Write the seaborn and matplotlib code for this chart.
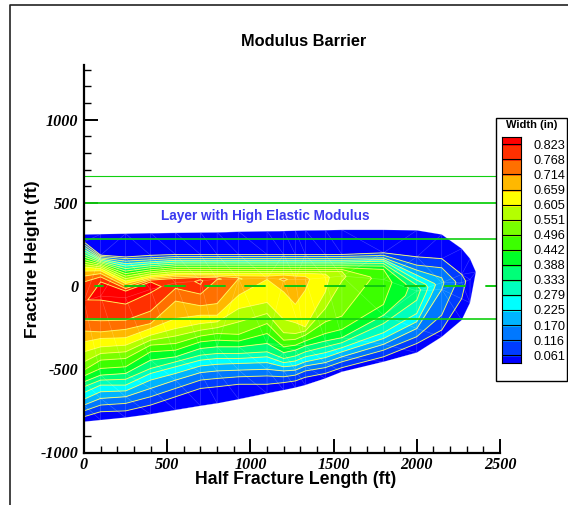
import numpy as np
import matplotlib
matplotlib.use("Agg")
import matplotlib.pyplot as plt
import matplotlib.tri as mtri
from matplotlib import font_manager as fm
from matplotlib.colors import ListedColormap
from matplotlib.lines import Line2D
from matplotlib.patches import Rectangle
from matplotlib.ticker import MultipleLocator
import seaborn as sns

TITLE = "Modulus Barrier"
XLABEL = "Half Fracture Length (ft)"
YLABEL = "Fracture Height (ft)"
NOTE = "Layer with High Elastic Modulus"
LEGEND_TITLE = "Width (in)"

x_ticks = [0, 500, 1000, 1500, 2000, 2500]
x_tick_labels = ["0", "500", "1000", "1500", "2000", "2500"]
y_ticks = [-1000, -500, 0, 500, 1000]
y_tick_labels = ["-1000", "-500", "0", "500", "1000"]

levels = [0.061, 0.116, 0.170, 0.225, 0.279, 0.333, 0.388, 0.442,
          0.496, 0.551, 0.605, 0.659, 0.714, 0.768, 0.823]
band_colors = ["#0000ff", "#003cff", "#0078ff", "#00b4ff", "#00ffff", "#00ffbf",
               "#00ff78", "#00ff28", "#3cff00", "#78ff00", "#b4ff00", "#ffff00",
               "#ffb800", "#ff7000", "#ff3000", "#ff0000"]

stations = [0, 100, 250, 400, 550, 700, 800, 930, 1100, 1200, 1270, 1330, 1450, 1550,
            1800, 2000, 2150, 2270, 2320, 2355]
ridge_y = [-90, -60, -70, -20, 20, 30, 42, 42, 47, 40, 40, 40, 50, 60, 40, -30, 20, 20, 40, 85]
peak_w = [0.815, 0.85, 0.87, 0.84, 0.80, 0.83, 0.78, 0.72, 0.67, 0.73, 0.68, 0.67, 0.62, 0.56,
          0.47, 0.36, 0.18, 0.09, 0.03, 0.0]

# height of the fracture edge, then of each width level, per station
low_y = [
    [-815, -785, -750, -715, -680, -640, -605, -575, -540, -505, -455, -395, -335, -270, -204],
    [-805, -755, -715, -675, -635, -595, -565, -535, -495, -445, -405, -365, -315, -275, -208, -84],
    [-790, -750, -705, -665, -630, -595, -560, -525, -485, -435, -395, -355, -310, -260, -205, -108],
    [-770, -715, -665, -615, -565, -525, -495, -445, -395, -355, -325, -295, -255, -225, -150, -40],
    [-745, -665, -615, -565, -525, -485, -455, -425, -385, -345, -300, -255, -195, -90, -14],
    [-720, -615, -565, -520, -480, -445, -415, -375, -335, -300, -265, -225, -175, -118, -48, 10],
    [-705, -605, -555, -510, -470, -435, -405, -365, -325, -285, -250, -215, -175, -105, 40],
    [-680, -590, -545, -505, -465, -435, -405, -365, -330, -290, -215, -135, -54, 46],
    [-645, -590, -540, -500, -460, -425, -395, -345, -285, -225, -165, -98, 40],
    [-625, -580, -545, -510, -485, -460, -435, -400, -365, -325, -280, -200, -35, 30],
    [-610, -570, -535, -505, -478, -450, -420, -385, -355, -320, -285, -220, -110],
    [-595, -548, -510, -480, -455, -425, -395, -360, -330, -295, -270, -245, -25],
    [-555, -525, -490, -460, -430, -400, -365, -330, -285, -215, -135, -35],
    [-515, -490, -455, -425, -395, -370, -340, -310, -260, -180, 30],
    [-455, -425, -385, -350, -315, -280, -225, -175, -110],
    [-400, -345, -304, -255, -214, -164, -84],
    [-305, -264, -174, -20],
    [-204, -75],
    [-100],
    [85],
]
high_y = [
    [310, 265, 250, 235, 220, 205, 190, 175, 160, 145, 130, 115, 90, 60, 25],
    [312, 186, 178, 170, 163, 155, 147, 140, 132, 124, 115, 105, 92, 75, 55, 25],
    [315, 175, 165, 150, 135, 120, 105, 90, 75, 60, 45, 30, 15, 0, -15, -30],
    [318, 185, 170, 158, 146, 134, 122, 110, 98, 86, 74, 62, 52, 44, 36, 25],
    [320, 190, 178, 166, 155, 144, 133, 122, 111, 100, 88, 76, 66, 56, 46],
    [322, 190, 178, 166, 155, 144, 133, 122, 111, 100, 88, 76, 68, 60, 52, 38],
    [323, 190, 178, 166, 155, 144, 133, 122, 111, 100, 88, 76, 66, 58, 50],
    [327, 190, 178, 166, 155, 144, 133, 122, 111, 100, 88, 76, 62, 50],
    [330, 190, 178, 166, 155, 144, 133, 122, 111, 100, 88, 76, 60],
    [331, 190, 178, 166, 155, 144, 133, 122, 111, 100, 88, 76, 66, 48],
    [333, 190, 178, 166, 155, 144, 133, 122, 111, 100, 88, 76, 60],
    [335, 190, 178, 166, 155, 144, 133, 122, 111, 100, 88, 76, 58],
    [336, 190, 178, 166, 155, 144, 133, 122, 111, 100, 88, 72],
    [338, 190, 178, 166, 155, 144, 133, 122, 111, 100, 88],
    [338, 200, 185, 170, 160, 150, 135, 120, 100],
    [335, 176, 126, 96, 66, 36, 6],
    [310, 165, 110, 50],
    [225, 70],
    [165],
    [85],
]

solid_heights = [660, 500, 285, -200]
solid_widths = [0.8, 1.3, 1.2, 1.2]
dash_starts = [66, 248, 488, 728, 968, 1208, 1448, 1688, 1928, 2168, 2416]
dash_ends = [114, 368, 608, 848, 1088, 1328, 1568, 1808, 2048, 2288, 2482]
line_end = 2482

sns.set_theme(style="white")
plt.rcParams["font.family"] = ["Liberation Sans", "DejaVu Sans"]
palette = sns.color_palette(band_colors)

fig = plt.figure(figsize=(5.68, 5.05), dpi=100)
W, H = 568.0, 505.0
ax = fig.add_axes([84 / W, 1 - 452.5 / H, 416 / W, 387.5 / H])

n_rows = 2 * (len(levels) + 1) + 1
X = np.zeros((n_rows, len(stations)))
Y = np.zeros_like(X)
Z = np.zeros_like(X)
row_z = [0.0] + levels
for j, x in enumerate(stations):
    X[:, j] = x
    for k, lv in enumerate(row_z):
        Y[k, j] = low_y[j][k] if k < len(low_y[j]) else ridge_y[j]
        Y[n_rows - 1 - k, j] = high_y[j][k] if k < len(high_y[j]) else ridge_y[j]
        Z[k, j] = Z[n_rows - 1 - k, j] = min(lv, peak_w[j])
    Y[len(row_z), j] = ridge_y[j]
    Z[len(row_z), j] = peak_w[j]

ax.contourf(X, Y, Z, levels=[-0.01] + levels + [2.0], colors=palette, antialiased=True, zorder=1)
ax.contour(X, Y, Z, levels=levels, colors="#ffff55", linewidths=0.7, alpha=0.85, zorder=2)

# faint computational mesh
rows = [0, 3, 7, len(row_z), n_rows - 2, n_rows - 1]
pts = np.unique(np.round(np.c_[X[rows].ravel(), Y[rows].ravel()]), axis=0)
tri = mtri.Triangulation(pts[:, 0], pts[:, 1])
ax.triplot(tri, color="white", lw=0.4, alpha=0.25, zorder=3)

green = "#10d010"
for h, lw in zip(solid_heights, solid_widths):
    sns.lineplot(x=[0, line_end], y=[h, h], color=green, lw=lw, ax=ax, zorder=4)
for s, e in zip(dash_starts, dash_ends):
    sns.lineplot(x=[s, e], y=[0, 0], color="#10c810", lw=1.4, ax=ax, zorder=4)

ax.set_xlim(0, 2500)
ax.set_ylim(-1000, 1328.6)
for s in ("top", "right"):
    ax.spines[s].set_visible(False)
for s in ("left", "bottom"):
    ax.spines[s].set_linewidth(1.6)
    ax.spines[s].set_color("black")
    ax.spines[s].set_zorder(6)

ax.set_xticks(x_ticks, labels=x_tick_labels)
ax.set_yticks(y_ticks, labels=y_tick_labels)
ax.xaxis.set_minor_locator(MultipleLocator(100))
ax.yaxis.set_minor_locator(MultipleLocator(100))
ax.tick_params(axis="x", which="major", pad=3)
ax.tick_params(axis="y", which="major", pad=4)
ax.tick_params(axis="both", which="major", direction="in", length=10, width=1.4, color="black",
               bottom=True, left=True)
ax.tick_params(axis="both", which="minor", direction="in", length=5, width=1.0, color="black",
               bottom=True, left=True)
fig.canvas.draw()
tick_path = fm.findfont(fm.FontProperties(family="Liberation Serif", weight="bold", style="italic"))
tick_font = fm.FontProperties(fname=tick_path, size=11.6)
for tick in ax.xaxis.get_major_ticks() + ax.yaxis.get_major_ticks():
    tick.label1.set_fontproperties(tick_font)
    tick.label1.set_color("black")

ax.set_xlabel("")
ax.set_ylabel("")
fig.text(304 / W, 1 - 41 / H, TITLE, ha="center", va="center", fontsize=11.8, fontweight="bold", color="black")
fig.text(296 / W, 1 - 480 / H, XLABEL, ha="center", va="center", fontsize=12.7, fontweight="bold", color="black")
fig.text(33 / W, 1 - 259 / H, YLABEL, ha="center", va="center", rotation=90, fontsize=12.6, fontweight="bold", color="black")
fig.text(265.5 / W, 1 - 216 / H, NOTE, ha="center", va="center", fontsize=9.8, fontweight="bold", color="#3a3af0")

# outer frame
fig.add_artist(Line2D([9.5 / W, 9.5 / W, 1], [0, 1 - 5 / H, 1 - 5 / H], color="#222222", lw=1.2))

# legend
fig.add_artist(Rectangle((495.5 / W, 1 - 381 / H), 71.5 / W, 263.5 / H, fill=True, facecolor="white",
                         edgecolor="black", lw=1.0, transform=fig.transFigure, zorder=5))
fig.text(532 / W, 1 - 125.5 / H, LEGEND_TITLE, ha="center", va="center", fontsize=8, fontweight="bold",
         color="black", zorder=7)
cax = fig.add_axes([501.5 / W, 1 - 363 / H, 19 / W, 226.5 / H], zorder=6)
step = (levels[-1] - levels[0]) / (len(levels) - 1)
edges = [levels[0] - step / 2] + levels + [levels[-1] + step / 2]
cax.pcolormesh([0, 1], edges, np.arange(16).reshape(-1, 1),
               cmap=ListedColormap(palette), edgecolors="face")
for e in levels:
    cax.axhline(e, color="black", lw=0.8)
cax.set_xlim(0, 1)
cax.set_ylim(edges[0], edges[-1])
cax.set_xticks([])
cax.yaxis.tick_right()
cax.set_yticks(levels)
cax.set_yticklabels([f"{v:.3f}" for v in levels], fontsize=9.2, color="black")
cax.tick_params(axis="y", length=0, pad=9)
for s in cax.spines.values():
    s.set_linewidth(0.8)
    s.set_color("black")

fig.savefig("out.png", dpi=100)
